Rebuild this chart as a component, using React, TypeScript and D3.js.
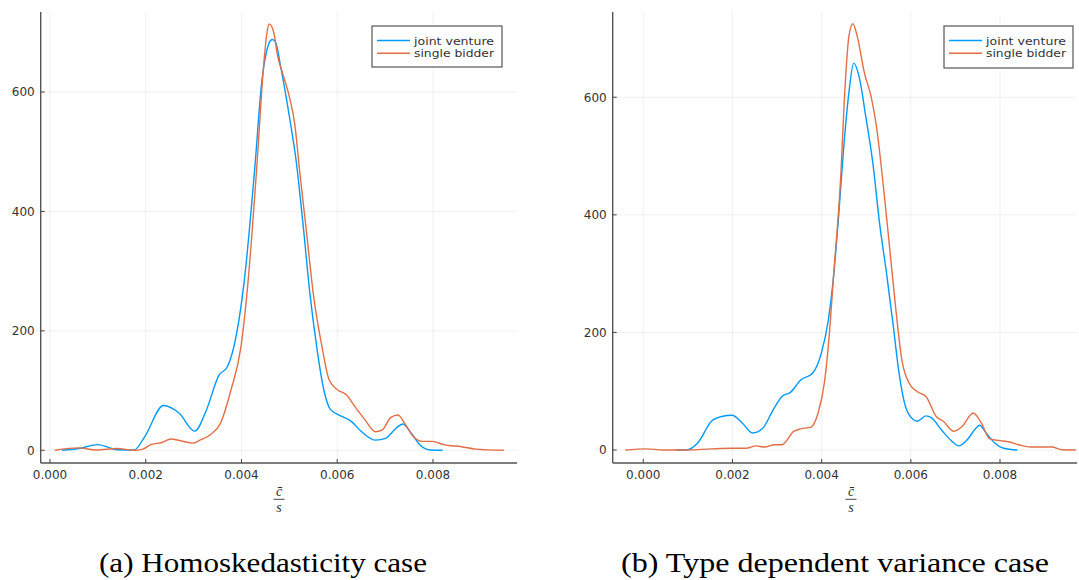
import React from "react";
import * as d3 from "d3";

// ---------- data ----------
const xTicks = [0, 0.002, 0.004, 0.006, 0.008];
const yTicks = [0, 200, 400, 600];
const seriesNames = ["joint venture", "single bidder"];
const captions = ["(a) Homoskedasticity case", "(b) Type dependent variance case"];

// Panel (a) joint venture
const aJointX = [0.00025, 0.0006, 0.001, 0.0014, 0.00176, 0.00198, 0.00237, 0.0027, 0.00302, 0.00327, 0.00353, 0.0037, 0.0039, 0.00406, 0.00428, 0.00442, 0.00453, 0.00464, 0.00471, 0.00482, 0.005, 0.00514, 0.00529, 0.00543, 0.00557, 0.00572, 0.00586, 0.00604, 0.0063, 0.00651, 0.0068, 0.00701, 0.00723, 0.00737, 0.00755, 0.00773, 0.00795, 0.0082];
const aJointY = [0, 3, 9.5, 1, 0.5, 23, 75, 62, 32, 68, 126, 139, 196, 285, 475, 614, 670, 688, 684, 642, 559, 486, 375, 262, 174, 101, 68, 59, 48, 31, 17, 20, 37, 44, 28, 9, 0.5, 0];
// Panel (a) single bidder
const aSingleX = [0.0001, 0.0006, 0.00097, 0.0014, 0.00176, 0.00194, 0.00212, 0.00234, 0.00252, 0.00273, 0.00299, 0.00313, 0.00335, 0.00356, 0.00378, 0.00399, 0.00414, 0.00432, 0.00446, 0.00453, 0.00458, 0.00468, 0.00475, 0.00486, 0.005, 0.00511, 0.00522, 0.00536, 0.0055, 0.00568, 0.00583, 0.00601, 0.00619, 0.00637, 0.00658, 0.0068, 0.00694, 0.00712, 0.00727, 0.00741, 0.00759, 0.00777, 0.00799, 0.00824, 0.0086, 0.00889, 0.00948];
const aSingleY = [0, 4, 0.5, 3, 0, 2, 10, 13, 19, 16, 12, 17, 26, 45, 101, 174, 285, 475, 642, 698, 714, 698, 662, 631, 592, 548, 464, 364, 262, 174, 118, 101, 93, 73, 51, 31, 34, 55, 59, 45, 23, 15, 15, 9, 6, 2, 0];

// Panel (b) joint venture
const bJointX = [0.00072, 0.00099, 0.00122, 0.00153, 0.00176, 0.00199, 0.00222, 0.00245, 0.00268, 0.00291, 0.00311, 0.0033, 0.00353, 0.0038, 0.00399, 0.00415, 0.00426, 0.00438, 0.00449, 0.00461, 0.00472, 0.00484, 0.00499, 0.00515, 0.0053, 0.00546, 0.0056, 0.00573, 0.00588, 0.00607, 0.00615, 0.00634, 0.00646, 0.00669, 0.00692, 0.00708, 0.00727, 0.00746, 0.00754, 0.00769, 0.00788, 0.00808, 0.00839];
const bJointY = [0, 0.5, 12, 49, 57, 59, 46, 29, 37, 68, 91, 98, 119, 131, 164, 221, 289, 397, 510, 607, 658, 635, 567, 487, 385, 298, 215, 134, 74, 51, 49, 58, 55, 34, 15, 7, 18, 37, 42, 29, 12, 3, 0];
// Panel (b) single bidder
const bSingleX = [-0.0004, 0.00006, 0.00045, 0.00099, 0.00153, 0.00199, 0.0023, 0.00253, 0.00272, 0.00295, 0.00311, 0.00338, 0.00353, 0.00376, 0.00392, 0.00407, 0.00418, 0.00426, 0.00442, 0.00453, 0.00461, 0.0047, 0.0048, 0.00496, 0.00511, 0.00523, 0.00538, 0.00553, 0.00567, 0.0058, 0.00596, 0.00615, 0.00634, 0.00657, 0.00673, 0.00696, 0.00715, 0.0074, 0.00758, 0.00777, 0.008, 0.00819, 0.00842, 0.00869, 0.00916, 0.00939, 0.0097];
const bSingleY = [0, 2, 0, 0, 2, 3, 3, 7, 5, 9, 9, 32, 36, 39, 63, 119, 204, 289, 454, 624, 703, 725, 703, 641, 601, 550, 452, 340, 235, 153, 114, 99, 91, 57, 49, 32, 40, 63, 46, 19, 16, 14, 9, 5, 5, 0.5, 0];

// ---------- layout ----------
const W = 1079;
const H = 580;
const colors = ["#009AFA", "#E36F47"];

type Panel = {
  left: number; right: number; top: number; bottom: number;
  xDomain: [number, number]; yDomain: [number, number];
  series: { x: number[]; y: number[] }[];
  legend: { x: number; y: number; w: number; h: number };
  labelX: number; captionX: number; captionLen: number;
};

const panels: Panel[] = [
  {
    left: 40.7, right: 517, top: 12, bottom: 463,
    xDomain: [-0.000194, 0.009755], yDomain: [-21.3, 734],
    series: [{ x: aJointX, y: aJointY }, { x: aSingleX, y: aSingleY }],
    legend: { x: 372, y: 26, w: 130, h: 41 },
    labelX: 279, captionX: 263, captionLen: 328,
  },
  {
    left: 612.7, right: 1077, top: 12, bottom: 463,
    xDomain: [-0.000686, 0.009727], yDomain: [-22.1, 745],
    series: [{ x: bJointX, y: bJointY }, { x: bSingleX, y: bSingleY }],
    legend: { x: 944, y: 26, w: 129, h: 42 },
    labelX: 851, captionX: 835, captionLen: 428,
  },
];

const tickFont = "'DejaVu Sans', sans-serif";

function PanelView({ p, idx }: { p: Panel; idx: number }) {
  const x = d3.scaleLinear().domain(p.xDomain).range([p.left, p.right]);
  const y = d3.scaleLinear().domain(p.yDomain).range([p.bottom, p.top]);
  const line = d3
    .line<[number, number]>()
    .x((d) => x(d[0]))
    .y((d) => y(d[1]))
    .curve(d3.curveMonotoneX);
  const fmt = d3.format(".3f");
  return (
    <g>
      {/* grid */}
      {xTicks.map((t) => (
        <line key={"gx" + t} x1={x(t)} x2={x(t)} y1={p.top} y2={p.bottom} stroke="#000" strokeOpacity={0.1} strokeWidth={0.6} />
      ))}
      {yTicks.map((t) => (
        <line key={"gy" + t} x1={p.left} x2={p.right} y1={y(t)} y2={y(t)} stroke="#000" strokeOpacity={0.1} strokeWidth={0.6} />
      ))}
      {/* series */}
      {p.series.map((s, i) => (
        <path
          key={"s" + i}
          d={line(s.x.map((v, j) => [v, s.y[j]] as [number, number])) || ""}
          fill="none"
          stroke={colors[i]}
          strokeWidth={1.4}
        />
      ))}
      {/* axes */}
      <line x1={p.left} x2={p.left} y1={p.top} y2={p.bottom} stroke="#555" strokeWidth={1.4} />
      <line x1={p.left} x2={p.right} y1={p.bottom} y2={p.bottom} stroke="#555" strokeWidth={1.4} />
      {xTicks.map((t) => (
        <g key={"tx" + t}>
          <line x1={x(t)} x2={x(t)} y1={p.bottom} y2={p.bottom - 4} stroke="#444" strokeWidth={1} />
          <text x={x(t)} y={p.bottom + 16} textAnchor="middle" fontFamily={tickFont} fontSize={12} fill="#333">
            {fmt(t)}
          </text>
        </g>
      ))}
      {yTicks.map((t) => (
        <g key={"ty" + t}>
          <line x1={p.left} x2={p.left + 4} y1={y(t)} y2={y(t)} stroke="#444" strokeWidth={1} />
          <text x={p.left - 6} y={y(t) + 4.3} textAnchor="end" fontFamily={tickFont} fontSize={12} fill="#333">
            {t}
          </text>
        </g>
      ))}
      {/* x label: c-bar over s */}
      <text x={p.labelX} y={496} textAnchor="middle" fontFamily="'Liberation Serif', serif" fontStyle="italic" fontSize={14} fill="#333">
        c̄
      </text>
      <line x1={p.labelX - 5.5} x2={p.labelX + 5.5} y1={499.3} y2={499.3} stroke="#333" strokeWidth={0.9} />
      <text x={p.labelX} y={512} textAnchor="middle" fontFamily="'Liberation Serif', serif" fontStyle="italic" fontSize={14} fill="#333">
        s
      </text>
      {/* legend */}
      <rect x={p.legend.x} y={p.legend.y} width={p.legend.w} height={p.legend.h} fill="#fff" stroke="#555" strokeWidth={1.2} />
      {seriesNames.map((n, i) => (
        <g key={"lg" + i}>
          <line
            x1={p.legend.x + 5}
            x2={p.legend.x + 38}
            y1={p.legend.y + 14.5 + i * 12.7}
            y2={p.legend.y + 14.5 + i * 12.7}
            stroke={colors[i]}
            strokeWidth={1.4}
          />
          <text
            x={p.legend.x + 42}
            y={p.legend.y + 18.5 + i * 12.7}
            fontFamily={tickFont}
            fontSize={11}
            fill="#333"
            textLength={80}
            lengthAdjust="spacingAndGlyphs"
          >
            {n}
          </text>
        </g>
      ))}
      {/* caption */}
      <text
        x={p.captionX}
        y={572}
        textAnchor="middle"
        fontFamily="'Liberation Serif', serif"
        fontSize={28}
        fill="#000"
        textLength={p.captionLen}
        lengthAdjust="spacingAndGlyphs"
      >
        {captions[idx]}
      </text>
    </g>
  );
}

export default function App() {
  return (
    <svg width={W} height={H} style={{ position: "absolute", left: 0, top: 0, background: "#fff" }}>
      <rect x={0} y={0} width={W} height={H} fill="#fff" />
      {panels.map((p, i) => (
        <PanelView key={i} p={p} idx={i} />
      ))}
    </svg>
  );
}
